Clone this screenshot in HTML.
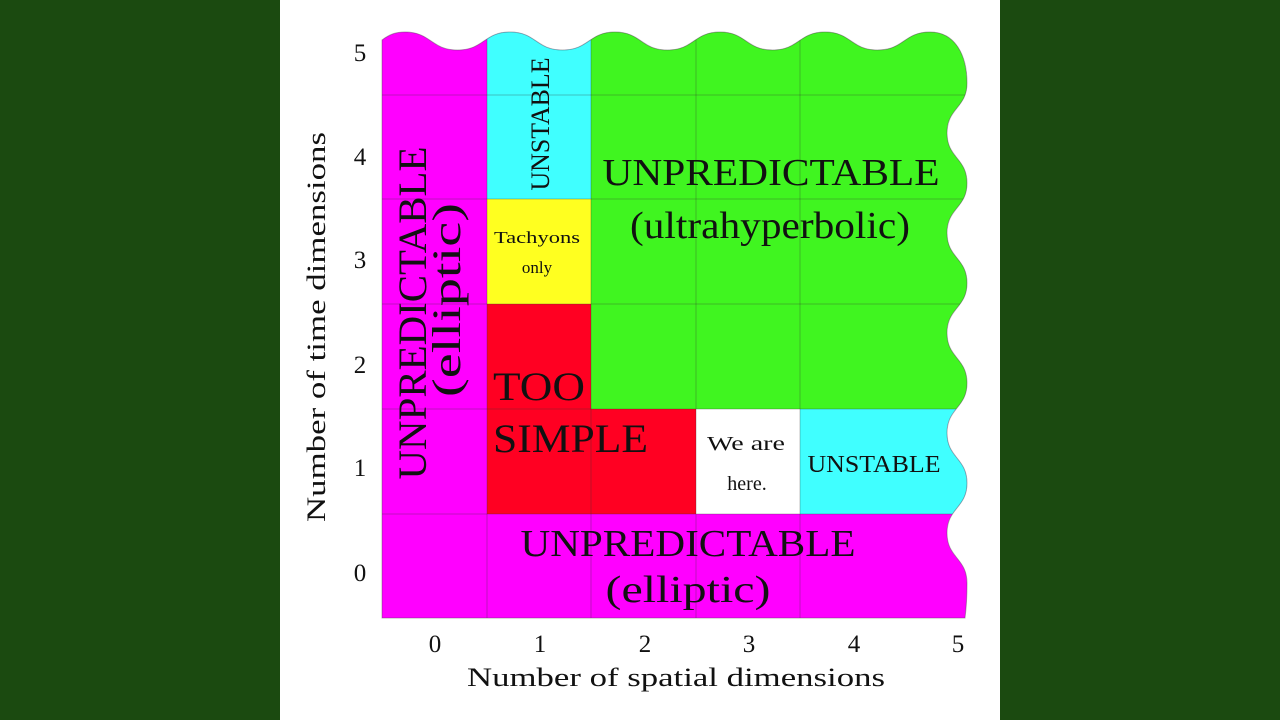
<!DOCTYPE html>
<html><head><meta charset="utf-8"><style>
html,body{margin:0;padding:0;width:1280px;height:720px;overflow:hidden;background:#1b4a10}
svg{display:block}
text{font-family:"Liberation Serif",serif;fill:#111}
</style></head><body>
<svg width="1280" height="720" viewBox="0 0 1280 720" xmlns="http://www.w3.org/2000/svg">
<rect x="0" y="0" width="1280" height="720" fill="#1b4a10"/>
<rect x="280" y="0" width="720" height="720" fill="#ffffff"/>
<defs>
<clipPath id="c"><path id="shape" d="M382,40 C390,34 396,32 405,32 C431,32 431,50 457.5,50 C484,50 484,32 510,32 C536,32 536,50 562.5,50 C589,50 589,32 615,32 C641,32 641,50 667.5,50 C694,50 694,32 720,32 C746,32 746,50 772.5,50 C799,50 799,32 825,32 C851,32 851,50 877.5,50 C904,50 904,32 930,32 C955,32 967,55 967,83 C967,108 947,108 947,133 C947,158 967,158 967,183 C967,208 947,208 947,233 C947,258 967,258 967,283 C967,308 947,308 947,333 C947,358 967,358 967,383 C967,408 947,408 947,433 C947,458 967,458 967,483 C967,508 947,508 947,533 C947,558 967,558 967,583 C967,600 966,610 965,618 L382,618 Z"/></clipPath>
</defs>
<g clip-path="url(#c)">
<rect x="382" y="0" width="600" height="620" fill="#ff00ff"/>
<rect x="591" y="0" width="400" height="409" fill="#40f520"/>
<rect x="487" y="0" width="104" height="199" fill="#40ffff"/>
<rect x="487" y="199" width="104" height="105" fill="#ffff20"/>
<rect x="487" y="304" width="104" height="210" fill="#ff0022"/>
<rect x="591" y="409" width="105" height="105" fill="#ff0022"/>
<rect x="696" y="409" width="104" height="105" fill="#ffffff"/>
<rect x="800" y="409" width="200" height="105" fill="#40ffff"/>
<g stroke="#333" stroke-opacity="0.3" stroke-width="1">
<line x1="487" y1="0" x2="487" y2="618"/><line x1="591" y1="0" x2="591" y2="618"/>
<line x1="696" y1="0" x2="696" y2="618"/><line x1="800" y1="0" x2="800" y2="618"/>
<line x1="382" y1="95" x2="990" y2="95"/><line x1="382" y1="199" x2="990" y2="199"/>
<line x1="382" y1="304" x2="990" y2="304"/><line x1="382" y1="409" x2="990" y2="409"/>
<line x1="382" y1="514" x2="990" y2="514"/>
</g>
</g>
<use href="#shape" fill="none" stroke="#444" stroke-opacity="0.4" stroke-width="1"/>

<g font-size="25" text-anchor="middle">
<text x="360" y="61">5</text><text x="360" y="165">4</text><text x="360" y="268">3</text>
<text x="360" y="373">2</text><text x="360" y="476">1</text><text x="360" y="581">0</text>
<text x="435" y="652">0</text><text x="540" y="652">1</text><text x="645" y="652">2</text>
<text x="749" y="652">3</text><text x="854" y="652">4</text><text x="958" y="652">5</text>
</g>
<text x="676" y="686" font-size="26" text-anchor="middle" textLength="418" lengthAdjust="spacingAndGlyphs">Number of spatial dimensions</text>
<text transform="translate(325,327) rotate(-90)" font-size="26" text-anchor="middle" textLength="390" lengthAdjust="spacingAndGlyphs">Number of time dimensions</text>

<text transform="translate(426,313) rotate(-90)" font-size="40" text-anchor="middle" textLength="333" lengthAdjust="spacingAndGlyphs">UNPREDICTABLE</text>
<text transform="translate(460,300) rotate(-90)" font-size="40" text-anchor="middle" textLength="194" lengthAdjust="spacingAndGlyphs">(elliptic)</text>
<text transform="translate(549,124) rotate(-90)" font-size="26" text-anchor="middle" textLength="133" lengthAdjust="spacingAndGlyphs">UNSTABLE</text>
<text x="771" y="185" font-size="38" text-anchor="middle" textLength="337" lengthAdjust="spacingAndGlyphs">UNPREDICTABLE</text>
<text x="770" y="238" font-size="38" text-anchor="middle" textLength="280" lengthAdjust="spacingAndGlyphs">(ultrahyperbolic)</text>
<text x="537" y="243" font-size="17" text-anchor="middle" textLength="86" lengthAdjust="spacingAndGlyphs">Tachyons</text>
<text x="537" y="273" font-size="17" text-anchor="middle">only</text>
<text x="493" y="400" font-size="40" textLength="92" lengthAdjust="spacingAndGlyphs">TOO</text>
<text x="493" y="452" font-size="40" textLength="155" lengthAdjust="spacingAndGlyphs">SIMPLE</text>
<text x="746" y="450" font-size="20" text-anchor="middle" textLength="78" lengthAdjust="spacingAndGlyphs">We are</text>
<text x="747" y="490" font-size="20" text-anchor="middle">here.</text>
<text x="874" y="472" font-size="24" text-anchor="middle" textLength="133" lengthAdjust="spacingAndGlyphs">UNSTABLE</text>
<text x="688" y="556" font-size="38" text-anchor="middle" textLength="335" lengthAdjust="spacingAndGlyphs">UNPREDICTABLE</text>
<text x="688" y="602" font-size="38" text-anchor="middle" textLength="165" lengthAdjust="spacingAndGlyphs">(elliptic)</text>
</svg>
</body></html>
